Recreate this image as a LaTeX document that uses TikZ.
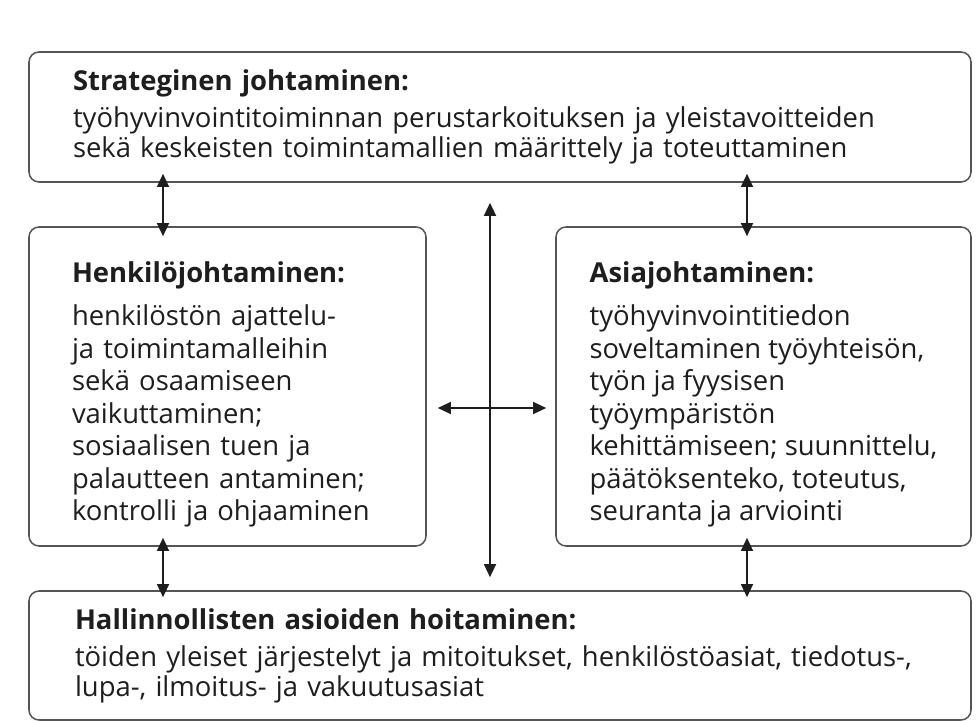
\documentclass[tikz,border=0pt]{standalone}
\usepackage{fontspec}
\setmainfont{Open Sans}
\usetikzlibrary{arrows.meta,positioning,calc}
\definecolor{FrameGray}{RGB}{85,85,85}
\definecolor{InkBlack}{RGB}{30,30,30}
\tikzset{
  block/.style={draw=FrameGray,rounded corners=0.25cm,line width=1.1pt,
    align=left,text=InkBlack,font=\fontsize{19.5}{21.3}\selectfont,
    inner ysep=0pt},
  tallblock/.style={block,font=\fontsize{19.5}{23.1}\selectfont},
  link/.style={{Triangle[length=0.33cm,width=0.3cm]}-{Triangle[length=0.33cm,width=0.3cm]},
    line width=1.3pt,InkBlack}
}
\begin{document}
\begin{tikzpicture}[x=0.025cm,y=-0.025cm]
  \useasboundingbox (0,0) rectangle (979,722);

  \node[block,text width=854*0.025cm,inner xsep=44*0.025cm,
        minimum height=130*0.025cm] (strat) at (500,117)
    {\textbf{Strateginen johtaminen:}\\[5pt]
     työhyvinvointitoiminnan perustarkoituksen ja yleistavoitteiden\\
     sekä keskeisten toimintamallien määrittely ja toteuttaminen};

  \node[tallblock,text width=311*0.025cm,inner xsep=43*0.025cm,
        minimum height=319*0.025cm] (henk) at (227.5,386.5)
    {\rule{0pt}{26pt}\textbf{Henkilöjohtaminen:}\\[8pt]
     henkilöstön ajattelu-\\
     ja toimintamalleihin\\
     sekä osaamiseen\\
     vaikuttaminen;\\
     sosiaalisen tuen ja\\
     palautteen antaminen;\\
     kontrolli ja ohjaaminen};

  \node[tallblock,minimum width=415*0.025cm,
        minimum height=319*0.025cm] (asia) at (763.5,386.5)
    {\rule{0pt}{26pt}\textbf{Asiajohtaminen:}\\[8pt]
     työhyvinvointitiedon\\
     soveltaminen työyhteisön,\\
     työn ja fyysisen\\
     työympäristön\\
     kehittämiseen; suunnittelu,\\
     päätöksenteko, toteutus,\\
     seuranta ja arviointi};

  \node[block,text width=850*0.025cm,inner xsep=46*0.025cm,
        minimum height=129*0.025cm] (hall) at (500,655.5)
    {\textbf{Hallinnollisten asioiden hoitaminen:}\\[5pt]
     töiden yleiset järjestelyt ja mitoitukset, henkilöstöasiat, tiedotus-,\\
     lupa-, ilmoitus- ja vakuutusasiat};

  % arrow columns
  \coordinate (colL) at (163,0);
  \coordinate (colR) at (747,0);
  \coordinate (colM) at (490,0);
  \coordinate (rowM) at (0,408);

  \draw[link,shorten <=-9*0.025cm,shorten >=-10*0.025cm] (strat.south -| colL) -- (henk.north -| colL);
  \draw[link,shorten <=-9*0.025cm,shorten >=-10*0.025cm] (strat.south -| colR) -- (asia.north -| colR);
  \draw[link,shorten <=-9*0.025cm,shorten >=-7*0.025cm] (henk.south -| colL) -- (hall.north -| colL);
  \draw[link,shorten <=-9*0.025cm,shorten >=-7*0.025cm] (asia.south -| colR) -- (hall.north -| colR);
  \draw[link,shorten <=20*0.025cm,shorten >=13*0.025cm] (strat.south -| colM) -- (hall.north -| colM);
  \draw[link,shorten <=11*0.025cm,shorten >=9*0.025cm] (henk.east |- rowM) -- (asia.west |- rowM);
\end{tikzpicture}
\end{document}
